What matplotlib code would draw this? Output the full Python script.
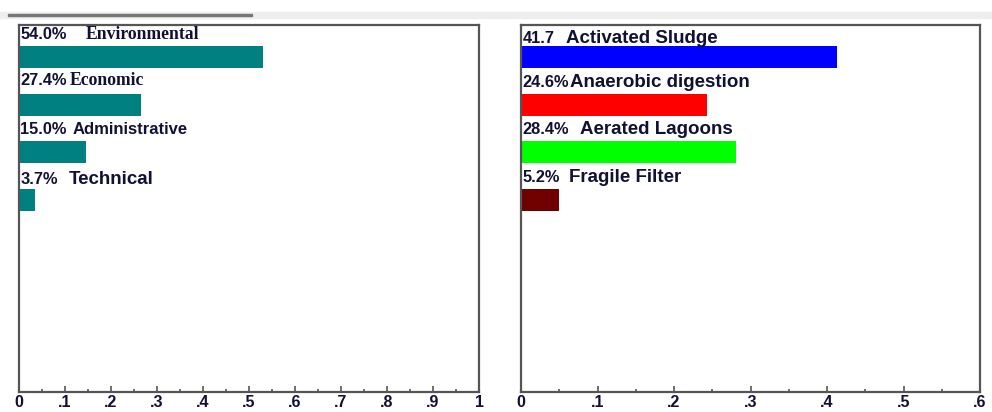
import matplotlib

matplotlib.use("Agg")
import matplotlib.pyplot as plt
import matplotlib.transforms as mtransforms
from matplotlib.patches import Rectangle
from matplotlib.ticker import FixedLocator, MultipleLocator

# ---- data ----
left_cats = ["Environmental", "Economic", "Administrative", "Technical"]
left_vals = [0.53, 0.266, 0.145, 0.035]
left_pct = ["54.0%", "27.4%", "15.0%", "3.7%"]
left_colors = ["#008080"] * 4

right_cats = ["Activated Sludge", "Anaerobic digestion", "Aerated Lagoons", "Fragile Filter"]
right_vals = [0.413, 0.243, 0.281, 0.05]
right_pct = ["41.7", "24.6%", "28.4%", "5.2%"]
right_colors = ["#0000FF", "#FF0000", "#00FF00", "#700000"]

left_ticks = [0, .1, .2, .3, .4, .5, .6, .7, .8, .9, 1]
left_ticklabels = ["0", ".1", ".2", ".3", ".4", ".5", ".6", ".7", ".8", ".9", "1"]
right_ticks = [0, .1, .2, .3, .4, .5, .6]
right_ticklabels = ["0", ".1", ".2", ".3", ".4", ".5", ".6"]

TXT = "#111133"
FRAME = "#555555"


def panel(ax, cats, vals, pct, colors, ticks, ticklabels, label_x, fonts, dy):
    ys = range(len(cats))
    ax.barh(ys, vals, height=0.47, color=colors, edgecolor="none")
    ax.set_xlim(ticks[0], ticks[-1])
    ax.set_ylim(7.05, -0.68)
    ax.set_yticks([])
    ax.xaxis.set_major_locator(FixedLocator(ticks))
    ax.set_xticklabels(ticklabels, fontsize=11.5, fontweight="bold", family="Liberation Sans")
    ax.xaxis.set_minor_locator(MultipleLocator(0.05))
    ax.tick_params(axis="x", which="major", direction="in", length=4, width=1.2,
                   color=FRAME, pad=2.5, labelcolor=TXT)
    ax.tick_params(axis="x", which="minor", direction="in", length=2, width=1.2, color=FRAME)
    for s in ax.spines.values():
        s.set_color(FRAME)
        s.set_linewidth(1.6)
    tr = mtransforms.blended_transform_factory(ax.transAxes, ax.transData)
    for i, (c, p) in enumerate(zip(cats, pct)):
        y = i - dy[i]
        ax.text(0.003, y, p, transform=tr, ha="left", va="center", fontsize=11.8,
                fontweight="bold", family="Liberation Sans", color=TXT)
        ax.text(label_x[i], y, c, transform=tr, ha="left", va="center",
                fontsize=fonts[i][1], fontweight="bold", family=fonts[i][0], color=TXT)


fig = plt.figure(figsize=(9.92, 4.12), dpi=100)

# scrollbar-like strip at the top
fig.patches.append(Rectangle((0, 394 / 412), 1, 6 / 412, transform=fig.transFigure,
                             color="#eeeeee", zorder=0))
fig.patches.append(Rectangle((8 / 992, 396 / 412), 244 / 992, 2 / 412,
                             transform=fig.transFigure, color="#777777", zorder=1))

ax1 = fig.add_axes([19 / 992, 20 / 412, 460 / 992, 367 / 412])
ax2 = fig.add_axes([521 / 992, 20 / 412, 459 / 992, 367 / 412])

panel(ax1, left_cats, left_vals, left_pct, left_colors, left_ticks, left_ticklabels,
      [0.145, 0.110, 0.117, 0.108],
      [("Liberation Serif", 12.7), ("Liberation Serif", 12.7),
       ("Liberation Sans", 12), ("Liberation Sans", 13.5)],
      [0.49, 0.52, 0.47, 0.42])
panel(ax2, right_cats, right_vals, right_pct, right_colors, right_ticks, right_ticklabels,
      [0.098, 0.107, 0.128, 0.104],
      [("Liberation Sans", 13.5)] * 4,
      [0.40, 0.46, 0.48, 0.46])

fig.savefig("out.png", dpi=100)
